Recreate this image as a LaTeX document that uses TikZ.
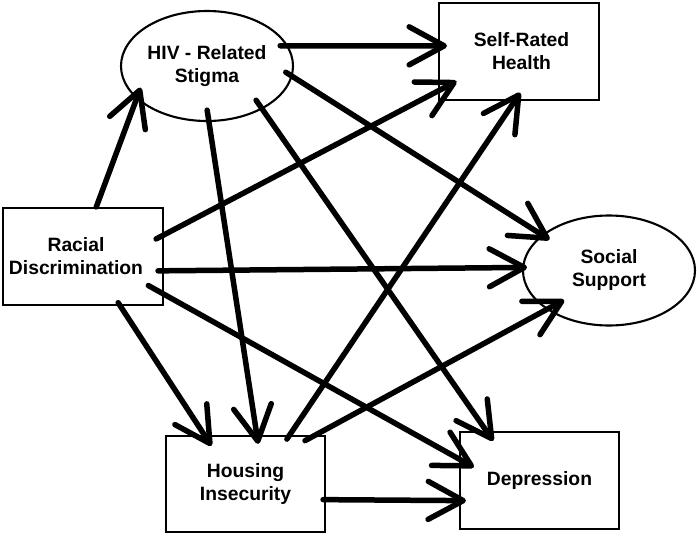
\documentclass[tikz,border=0pt]{standalone}
\usepackage{fontspec}
\setmainfont{Liberation Sans}
\usetikzlibrary{arrows.meta,shapes.geometric}
\begin{document}
\begin{tikzpicture}[x=1pt,y=-1pt,
  lbl/.style={font=\bfseries\fontsize{19.3}{23}\selectfont, align=center, inner sep=0pt, line width=2.1pt, draw},
  boxnode/.style={lbl, rectangle, minimum width=160pt, minimum height=97pt},
  ovalnode/.style={lbl, ellipse, minimum width=172pt, minimum height=110pt},
  link/.style={line width=5.5pt, line cap=round, -{Straight Barb[length=35pt,width=38pt,round]}},
]
\useasboundingbox (0,0) rectangle (697,536);

\node[ovalnode] (hiv) at (207,66) {HIV - Related\\Stigma};
\node[boxnode] (srh) at (519,51.5) {Self-Rated\kern-5pt\\Health\kern-5pt};
\node[boxnode] (rd) at (83,256.5) {Racial\kern14pt\\Discrimination\kern14pt};
\node[ovalnode] (ss) at (609,270.5) {Social\\Support};
\node[boxnode, minimum width=159pt, minimum height=96pt] (hi) at (245.5,484) {Housing\\Insecurity};
\node[boxnode, minimum width=159pt] (dep) at (539.5,480.5) {Depression};

\draw[link, shorten >=-12pt] (rd.75) -- (hiv.205);
\draw[link, shorten <=-8pt, shorten >=-9pt] (hiv.14) -- (srh.176);
\draw[link, shorten <=-8pt, shorten >=-9pt] (hiv.-7) -- (ss.152);
\draw[link, shorten <=-12pt, shorten >=-9pt] (hiv.-88) -- (hi.77);
\draw[link, shorten <=-11pt, shorten >=-12pt] (hiv.-38) -- (dep.137);
\draw[link, shorten <=-9pt, shorten >=-21pt] (rd.15) -- (srh.206);
\draw[link, shorten <=-6pt, shorten >=-5pt] (rd.-10) -- (ss.178);
\draw[link, shorten <=-18pt, shorten >=-17pt] (rd.-25) -- (dep.165);
\draw[link, shorten <=-4pt, shorten >=-13pt] (rd.-53) -- (hi.130);
\draw[link, shorten <=-5pt, shorten >=-10pt] (hi.48) -- (srh.265);
\draw[link, shorten <=-12pt, shorten >=-20pt] (hi.35) -- (ss.212);
\draw[link, shorten <=-3pt, shorten >=-7pt] (hi.-11) -- (dep.194);
\end{tikzpicture}
\end{document}
